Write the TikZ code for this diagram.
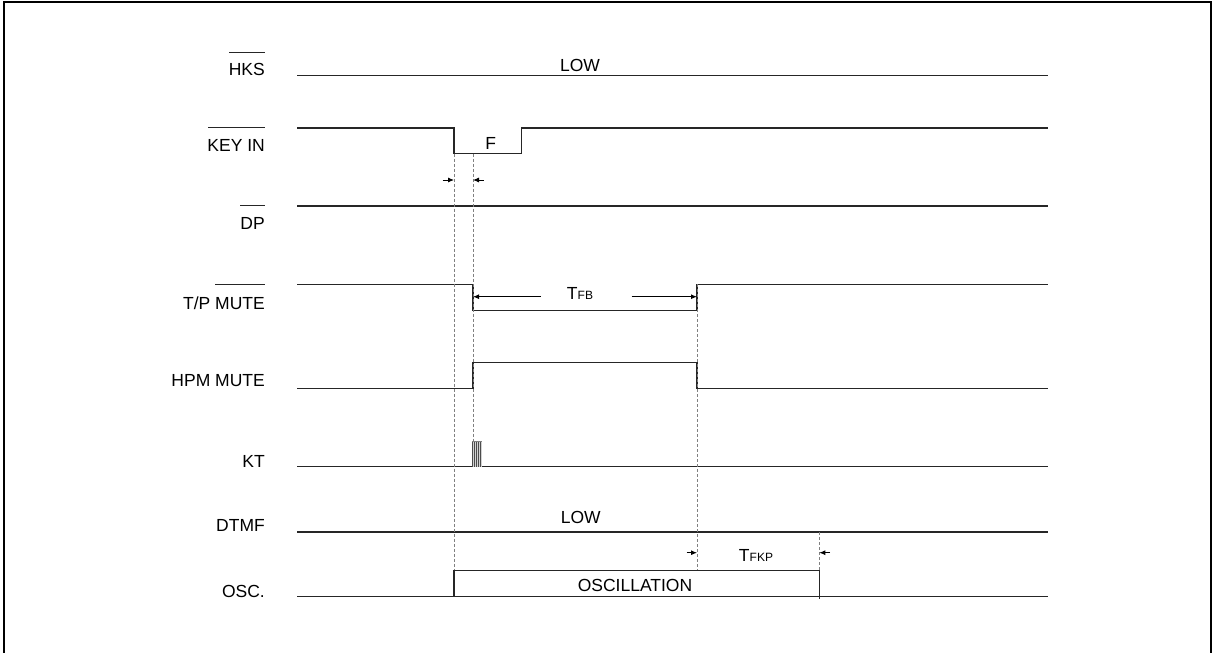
\documentclass[tikz,border=0pt]{standalone}
\usepackage{fontspec}
\setmainfont{Liberation Sans}
\usepackage{tikz}
\usetikzlibrary{arrows,arrows.meta}

\tikzset{
  lbl/.style={anchor=base east,inner sep=0pt,font=\fontsize{17.5}{20}\selectfont},
  txt/.style={anchor=base,inner sep=0pt,font=\fontsize{17.5}{20}\selectfont},
  sig/.style={line width=1.1pt,black!85},
  guide/.style={gray,line width=0.6pt,dash pattern=on 3pt off 2pt},
  dim/.style={line width=0.9pt,-{Latex[length=6pt,width=5pt]}}
}
\newcommand{\smallsub}[1]{{\fontsize{12}{14}\selectfont #1}}

\begin{document}
\begin{tikzpicture}[x=1pt,y=-1pt]
\useasboundingbox (0,0) rectangle (1213,653);
\draw[line width=2pt] (4,2) rectangle (1211,680);
%
\node[lbl] (hks) at (265,75) {HKS};
\node[lbl] (keyin) at (265,151) {KEY IN};
\node[lbl] (dp) at (265,229) {DP};
\node[lbl] (tpmute) at (265,309.3) {T/P MUTE};
\node[lbl] (hpmmute) at (265,386) {HPM MUTE};
\node[lbl] (kt) at (265,467.3) {KT};
\node[lbl] (dtmf) at (265,531.7) {DTMF};
\node[lbl] (osc) at (265,597.3) {OSC.};
%\draw (229,52.3)--(265,52.3);
\draw[sig] (229,52.3)--(265,52.3);
\draw[sig] (208,127.7)--(265,127.7);
\draw[sig] (240,205.7)--(265,205.7);
\draw[sig] (215,284.3)--(265,284.3);
%
\draw[sig] (297,75.7)--(1047.7,75.7);
\draw[sig] (297,128)--(454,128)--(454,153.7)--(521.7,153.7)--(521.7,128)--(1047.7,128);
\draw[sig] (297,206)--(1047.7,206);
\draw[sig] (297,284.3)--(473,284.3)--(473,310.7)--(697,310.7)--(697,284.3)--(1047.7,284.3);
\draw[sig] (297,388.3)--(473,388.3)--(473,362.3)--(697,362.3)--(697,388.3)--(1047.7,388.3);
\draw[sig] (297,466.7)--(1047.7,466.7);
\draw[sig] (297,532)--(1047.7,532);
\draw[sig] (297,596.7)--(1047.7,596.7);
\draw[sig] (454,596.7)--(454,570.3)--(819.3,570.3)--(819.3,598.5);
%
\fill[gray!35] (472.3,441) rectangle (482.3,466.7);
\foreach \x in {472.8,474.8,...,482.3}
  \draw[line width=0.7pt,black!70] (\x,441)--(\x,466.7);
\draw[line width=0.5pt,gray] (472.3,441)--(482.3,441);
%
\draw[guide] (454,153.7)--(454,570.3);
\draw[guide] (473,153.7)--(473,441);
\draw[guide] (697,284.3)--(697,570.3);
\draw[guide] (819.3,532)--(819.3,570.3);
%
\draw[dim] (442.7,180)--(454,180);
\draw[dim] (483.5,180)--(473,180);
\draw[dim] (540.7,296.7)--(473,296.7);
\draw[dim] (631.7,296.7)--(697,296.7);
\draw[dim] (686.7,552.7)--(697,552.7);
\draw[dim] (830,552.7)--(819.3,552.7);
%
\node[txt] (low1) at (580,71.7) {LOW};
\node[txt] (f) at (490.7,149) {F};
\node[txt] (tfb) at (580,299) {T\smallsub{FB}};
\node[txt] (low2) at (580.7,523.3) {LOW};
\node[txt] (tfkp) at (756,561) {T\smallsub{FKP}};
\node[txt] (oscil) at (635,591) {OSCILLATION};
\end{tikzpicture}
\end{document}
